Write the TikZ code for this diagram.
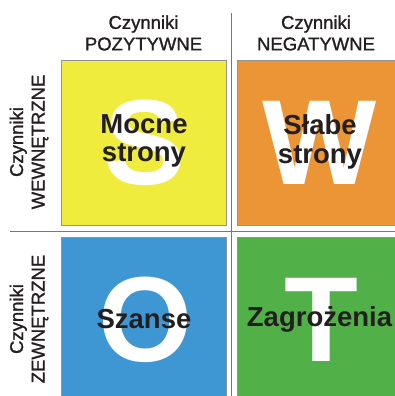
\documentclass[tikz,border=0pt]{standalone}
\usepackage{fontspec}
\setmainfont{Liberation Sans}
\newfontfamily\headfont[FakeBold=1.2]{Liberation Sans}
\usepackage{xcolor}
\definecolor{swotyellow}{RGB}{240, 236, 62}
\definecolor{swotorange}{RGB}{236, 149, 54}
\definecolor{swotblue}{RGB}{62, 150, 210}
\definecolor{swotgreen}{RGB}{82, 176, 72}
\definecolor{swotgray}{RGB}{120, 120, 120}
\definecolor{swottext}{RGB}{35, 31, 32}
\usetikzlibrary{positioning}

\begin{document}
\begin{tikzpicture}[x=1pt, y=-1pt,
    quad/.style={rectangle, draw=swotgray!80, line width=0.8pt, minimum size=165pt, inner sep=0pt},
    letter/.style={font=\fontsize{121}{121}\selectfont\bfseries, text=white, inner sep=0pt},
    boxtext/.style={font=\fontsize{27.5}{28.5}\selectfont\bfseries, text=swottext, align=center, inner sep=0pt},
    head/.style={font=\headfont\fontsize{18.5}{21.5}\selectfont, text=swottext, align=center, inner sep=0pt},
    sep/.style={line width=0.8pt, draw=swotgray}
]
\useasboundingbox (0,0) rectangle (395,396);

% === Cztery pola SWOT ===
\node[quad, fill=swotyellow] (s) at (143.5,143) {};
\node[quad, fill=swotorange] (w) at (319.5,143) {};
\node[quad, fill=swotblue]   (o) at (143.5,319.5) {};
\node[quad, fill=swotgreen]  (t) at (319.5,319.5) {};

% Duże litery w tle
\node[letter] (sl) at (145,143) {S};
\node[letter] (wl) at (320,143) {W};
\node[letter] (ol) at (146,320) {O};
\node[letter] (tl) at (321,319.5) {T};

% Opisy pól
\node[boxtext] (stxt) at (144,141) {Mocne\\strony};
\node[boxtext] (wtxt) at (320,142) {Słabe\\strony};
\node[boxtext] (otxt) at (144,319.5) {Szanse};
\node[boxtext] (ttxt) at (319.5,319) {Zagrożenia};

% === Linie podziału ===
\coordinate (vtop) at (231,13);
\coordinate (vbot) at (231,396);
\coordinate (hleft) at (10,231);
\coordinate (hright) at (395,231);
\draw[sep] (vtop) -- (vbot);
\draw[sep] (hleft) -- (hright);

% === Nagłówki ===
\node[head] (pos) at (143.5,33) {Czynniki\\POZYTYWNE};
\node[head] (neg) at (316,33) {Czynniki\\NEGATYWNE};
\node[head, rotate=90] (wew) at (29,142) {Czynniki\\WEWNĘTRZNE};
\node[head, rotate=90] (zew) at (29,319) {Czynniki\\ZEWNĘTRZNE};

\end{tikzpicture}
\end{document}
